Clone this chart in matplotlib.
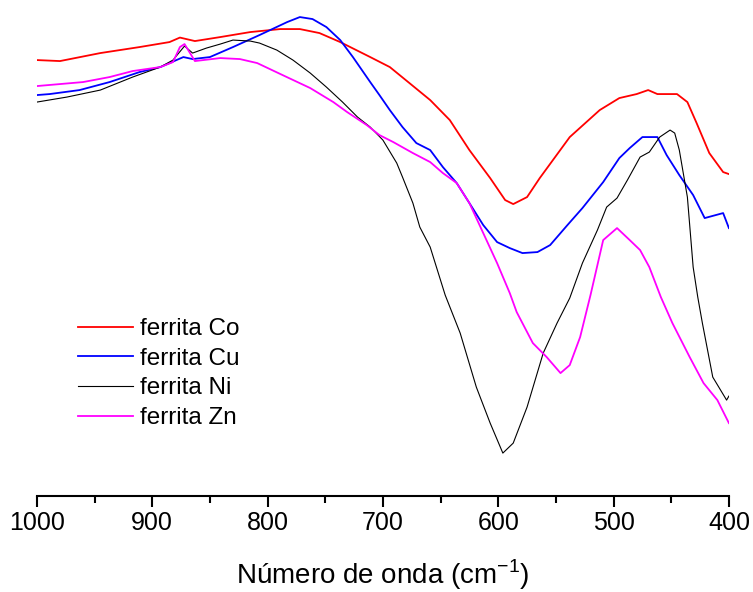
import matplotlib
matplotlib.use('Agg')
import matplotlib.pyplot as plt

plt.rcParams['font.family'] = ['Liberation Sans', 'DejaVu Sans']

# espectros FTIR das ferritas (transmitancia, u.a.)
w_co = [1000, 980, 945, 911, 885, 876, 863, 841, 815, 789, 772, 755, 737, 711, 694, 677,
        659, 642, 625, 607, 594, 587, 575, 564, 538, 512, 495, 480, 470, 462, 445, 436,
        428, 417, 405, 400]
t_co = [88.0, 87.8, 89.4, 90.6, 91.6, 92.5, 91.8, 92.6, 93.6, 94.2, 94.2, 93.4, 91.6, 88.6,
        86.6, 83.4, 80.0, 76.0, 70.0, 64.4, 60.0, 59.2, 60.6, 64.4, 72.6, 78.0, 80.4, 81.2,
        82.0, 81.2, 81.2, 79.6, 75.4, 69.4, 65.6, 65.2]

w_cu = [1000, 989, 963, 937, 911, 893, 885, 873, 865, 850, 830, 807, 783, 772, 761, 749,
        737, 726, 717, 711, 703, 694, 683, 671, 659, 648, 636, 625, 613, 601, 590, 579,
        566, 555, 540, 527, 509, 495, 486, 475, 462, 454, 443, 431, 421, 405, 400]
t_cu = [81.0, 81.2, 82.0, 83.6, 85.6, 86.6, 87.4, 88.6, 88.2, 88.6, 90.6, 93.0, 95.6, 96.6,
        96.2, 94.6, 92.0, 88.6, 85.6, 83.6, 81.0, 78.0, 74.6, 71.4, 70.0, 66.6, 63.4, 59.4,
        55.0, 51.6, 50.4, 49.4, 49.6, 51.0, 55.0, 58.4, 63.6, 68.4, 70.4, 72.6, 72.6, 69.0,
        65.0, 61.0, 56.4, 57.4, 54.4]

w_ni = [1000, 974, 945, 917, 893, 882, 872, 865, 853, 841, 830, 815, 807, 792, 778, 763,
        749, 735, 722, 711, 700, 688, 683, 674, 668, 659, 646, 633, 619, 607, 596, 587,
        575, 561, 549, 538, 527, 514, 506, 497, 488, 477, 469, 460, 451, 447, 443, 436,
        431, 427, 423, 414, 402, 400]
t_ni = [79.6, 80.6, 82.0, 84.6, 86.6, 88.0, 90.8, 89.4, 90.4, 91.2, 92.0, 91.8, 91.4, 90.0,
        88.0, 85.4, 82.6, 79.6, 76.6, 74.6, 72.0, 67.4, 64.6, 59.4, 54.6, 50.6, 41.0, 33.4,
        22.6, 15.4, 9.4, 11.4, 18.6, 29.4, 35.4, 40.4, 47.4, 54.0, 58.6, 60.4, 64.0, 68.6,
        69.6, 72.6, 74.0, 73.4, 70.0, 60.6, 46.6, 40.6, 35.4, 24.6, 20.0, 20.8]

w_zn = [1000, 960, 937, 917, 893, 882, 876, 872, 863, 841, 824, 809, 787, 763, 743, 731,
        714, 703, 691, 674, 659, 648, 636, 625, 613, 601, 590, 584, 570, 558, 546, 538,
        529, 520, 509, 497, 486, 477, 469, 459, 449, 434, 422, 410, 400]
t_zn = [82.8, 83.6, 84.6, 85.8, 86.6, 87.6, 90.6, 91.2, 87.8, 88.4, 88.2, 87.4, 85.0, 82.4,
        79.6, 77.6, 75.0, 73.0, 71.6, 69.4, 67.6, 65.4, 63.4, 59.4, 53.4, 47.4, 41.4, 37.6,
        31.4, 28.6, 25.4, 27.0, 32.6, 41.0, 52.0, 54.4, 52.0, 50.0, 46.6, 40.6, 35.4, 28.6,
        23.4, 20.0, 15.4]

fig = plt.figure(figsize=(7.53, 5.92), dpi=100)
ax = fig.add_axes([0.049, 0.162, 0.919, 0.821])

ax.plot(w_co, t_co, color='#ff0000', lw=1.3, label='ferrita Co')
ax.plot(w_cu, t_cu, color='#0000ff', lw=1.3, label='ferrita Cu')
ax.plot(w_ni, t_ni, color='#000000', lw=0.8, label='ferrita Ni')
ax.plot(w_zn, t_zn, color='#ff00ff', lw=1.3, label='ferrita Zn')

ax.set_xlim(1000, 400)
ax.set_ylim(0.8, 98)
ax.set_xticks([1000, 900, 800, 700, 600, 500, 400])
ax.set_xticks([950, 850, 750, 650, 550, 450], minor=True)
ax.set_yticks([])
for s in ['top', 'left', 'right']:
    ax.spines[s].set_visible(False)
ax.spines['bottom'].set_linewidth(1.5)
ax.tick_params(axis='x', which='major', direction='out', length=8, width=1.5,
               labelsize=18, pad=3)
ax.tick_params(axis='x', which='minor', direction='out', length=5, width=1.5)
ax.set_xlabel('Número de onda (cm$^{\\mathregular{-1}}$)', fontsize=20, labelpad=16)

ax.legend(loc='lower left', bbox_to_anchor=(0.045, 0.118), frameon=False, fontsize=17.5,
          handlelength=2.26, handletextpad=0.29, labelspacing=0.31, borderaxespad=0)

fig.savefig('out.png', dpi=100)
